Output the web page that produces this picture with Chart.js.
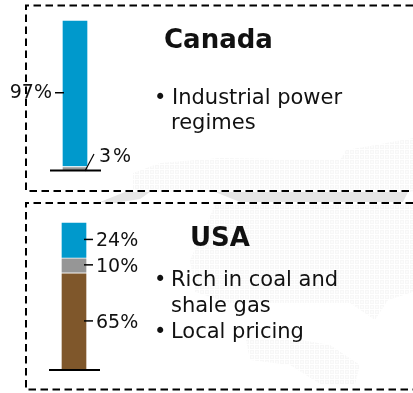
<!DOCTYPE html>
<html><head><meta charset="utf-8">
<style>html,body{margin:0;padding:0;background:#fff;overflow:hidden}
canvas{position:absolute;left:0;top:0}</style>
<script src="https://cdn.jsdelivr.net/npm/chart.js@4"></script></head>
<body>
<canvas id="ca" width="413" height="393"></canvas>
<canvas id="us" width="413" height="393"></canvas>
<script>
const canadaCategory = ['Canada'];
const canadaValues = [3, 97];
const canadaColors = ['#969696', '#0099CC'];
const canadaLabels = ['3%', '97%'];
const canadaBullets = ['Industrial power', 'regimes'];
const usaCategory = ['USA'];
const usaValues = [65, 10, 24];
const usaColors = ['#7F572B', '#969696', '#0099CC'];
const usaLabels = ['65%', '10%', '24%'];
const usaBullets = ['Rich in coal and', 'shale gas', 'Local pricing'];
const FONT = '"DejaVu Sans"';
const BODY = '21px ' + FONT, PCT = '19px ' + FONT, HEAD = 'bold 26px ' + FONT;

function dashed(c, x0, y0, y1) {
  c.save(); c.strokeStyle = '#000'; c.lineWidth = 2; c.setLineDash([7.5, 4.5]);
  c.beginPath(); c.moveTo(413, y0); c.lineTo(x0, y0); c.lineTo(x0, y1); c.lineTo(413, y1); c.stroke();
  c.restore();
}
function text(c, s, x, y, font, align, spacing) {
  c.font = font; c.fillStyle = '#111'; c.textAlign = align || 'left'; c.textBaseline = 'alphabetic';
  c.letterSpacing = (spacing || 0) + 'px';
  c.fillText(s, x, y);
  c.letterSpacing = '0px';
}
function line(c, x0, y0, x1, y1, w) {
  c.strokeStyle = '#000'; c.lineWidth = w || 1; c.beginPath(); c.moveTo(x0, y0); c.lineTo(x1, y1); c.stroke();
}
function midPixels(chart) {
  let acc = 0;
  return chart.data.datasets.map(d => {
    const v = d.data[0]; const m = acc + v / 2; acc += v;
    return chart.scales.y.getPixelForValue(m);
  });
}
function gridPattern(c) {
  const p = document.createElement('canvas'); p.width = 5; p.height = 5;
  const g = p.getContext('2d');
  g.fillStyle = '#f7f7f7'; g.fillRect(0, 0, 4, 4);
  g.fillStyle = '#fcfcfc'; g.fillRect(1, 1, 2, 2);
  return c.createPattern(p, 'repeat');
}
function poly(c, pts) {
  c.beginPath(); pts.forEach((q, i) => i ? c.lineTo(q[0], q[1]) : c.moveTo(q[0], q[1])); c.closePath(); c.fill();
}
const backdrop = {
  id: 'backdrop',
  beforeDatasetsDraw(chart) {
    const c = chart.ctx;
    c.save();
    c.fillStyle = gridPattern(c);
    poly(c, [[133,173],[160,163],[220,158],[340,160],[346,150],[370,146],[413,138],[413,192],[133,192]]);
    poly(c, [[215,205],[413,205],[413,292],[388,300],[375,320],[350,303],[230,303],[195,292],[190,260]]);
    poly(c, [[246,340],[290,338],[330,345],[360,365],[355,384],[320,384],[290,365],[250,360]]);
    c.fillStyle = '#e6e6e6';
    poly(c, [[215,192],[408,192],[403,202],[240,202]]);
    poly(c, [[100,202],[125,192],[150,192],[140,199],[115,203]]);
    c.restore();
  }
};
const BASE = {
  responsive: false, animation: false, events: [],
  plugins: { legend: { display: false }, tooltip: { enabled: false } },
  scales: {
    x: { display: false, stacked: true, offset: true },
    y: { display: false, stacked: true, min: 0 }
  }
};
function ds(values, colors) {
  return values.map((v, i) => ({
    label: 'Share ' + (i + 1), data: [v], backgroundColor: colors[i],
    borderColor: '#fff', borderWidth: 1, barPercentage: 1, categoryPercentage: 1
  }));
}
function opts(l, r, t, b, max) {
  const o = JSON.parse(JSON.stringify(BASE));
  o.layout = { padding: { left: l, right: 413 - r, top: t, bottom: 393 - b } };
  o.scales.y.max = max;
  return o;
}
const canadaDecor = {
  id: 'canadaDecor',
  afterDatasetsDraw(chart) {
    const c = chart.ctx, a = chart.chartArea, m = midPixels(chart);
    c.save();
    dashed(c, 26, 5.5, 191);
    line(c, 50, a.bottom - 0.5, 101, a.bottom - 0.5, 2);
    line(c, 55, m[1] - 0.5, 64, m[1] - 0.5, 1.5);
    line(c, 85, a.bottom, 94, 154, 1.2);
    text(c, canadaLabels[1], 52, m[1] + 5, PCT, 'right');
    text(c, canadaLabels[0], 99, 162, PCT, 'left', 2);
    text(c, canadaCategory[0], 164, 48, HEAD);
    text(c, '\u2022', 154, 104, BODY);
    text(c, canadaBullets[0], 172, 104, BODY);
    text(c, canadaBullets[1], 171, 129, BODY);
    c.restore();
  }
};
const usaDecor = {
  id: 'usaDecor',
  afterDatasetsDraw(chart) {
    const c = chart.ctx, a = chart.chartArea, m = midPixels(chart);
    c.save();
    dashed(c, 26, 203, 389.5);
    line(c, 49, a.bottom, 100, a.bottom, 2);
    usaLabels.forEach((s, i) => {
      line(c, 84, m[i] - 0.5, 93, m[i] - 0.5, 1.5);
      text(c, s, 96, m[i] + 6.5, PCT);
    });
    text(c, usaCategory[0], 190, 246, HEAD);
    text(c, '\u2022', 154, 286, BODY);
    text(c, usaBullets[0], 171, 286, BODY);
    text(c, usaBullets[1], 171, 312, BODY);
    text(c, '\u2022', 154, 338, BODY);
    text(c, usaBullets[2], 171, 338, BODY);
    c.restore();
  }
};
new Chart(document.getElementById('ca'), {
  type: 'bar',
  data: { labels: canadaCategory, datasets: ds(canadaValues, canadaColors) },
  options: opts(62, 88, 20, 171, 100), plugins: [backdrop, canadaDecor]
});
new Chart(document.getElementById('us'), {
  type: 'bar',
  data: { labels: usaCategory, datasets: ds(usaValues, usaColors) },
  options: opts(61, 87, 222, 370, 99), plugins: [usaDecor]
});
</script></body></html>
